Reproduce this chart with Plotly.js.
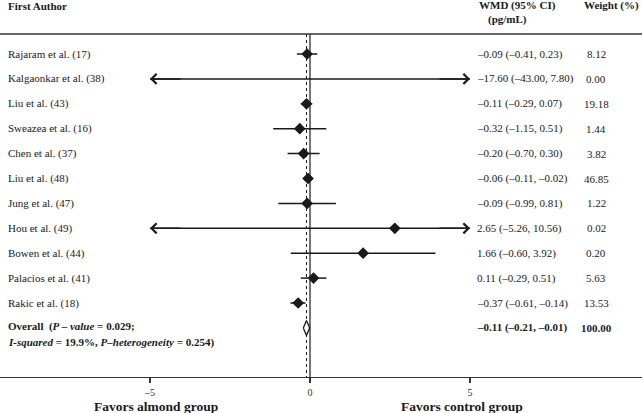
<!DOCTYPE html>
<html>
<head>
<meta charset="utf-8">
<script src="https://cdn.plot.ly/plotly-3.0.1.min.js"></script>
<style>
  html, body { margin: 0; padding: 0; background: #fff; }
  #graph { width: 642px; height: 413px; }
</style>
</head>
<body>
<div id="graph"></div>
<script>
// study data (WMD, pg/mL)
const studies = ['Rajaram et al. (17)', 'Kalgaonkar et al. (38)', 'Liu et al. (43)', 'Sweazea et al. (16)',
    'Chen et al. (37)', 'Liu et al. (48)', 'Jung et al. (47)', 'Hou et al. (49)', 'Bowen et al. (44)',
    'Palacios et al. (41)', 'Rakic et al. (18)'];
const est = [-0.09, -17.60, -0.11, -0.32, -0.20, -0.06, -0.09, 2.65, 1.66, 0.11, -0.37];
const lower = [-0.41, -43.00, -0.29, -1.15, -0.70, -0.11, -0.99, -5.26, -0.60, -0.29, -0.61];
const upper = [0.23, 7.80, 0.07, 0.51, 0.30, -0.02, 0.81, 10.56, 3.92, 0.51, -0.14];
const weights = [8.12, 0.00, 19.18, 1.44, 3.82, 46.85, 1.22, 0.02, 0.20, 5.63, 13.53];

const overallEst = -0.11;
const overallLo = -0.21;
const overallHi = -0.01;
const overallWeight = 100.00;

const xTicks = [-5, 0, 5];
const xTickText = ['\u20135', '0', '5'];

const FONT = '"Liberation Serif", "Times New Roman", serif';
const INK = '#1a1a1a';
const clip = 5;

function fmt(v) {
    return (v < 0 ? '\u2013' : '') + Math.abs(v).toFixed(2);
}

let ciX = [], ciY = [];
let annotations = [];
let rowOverall = studies.length;

for (let i = 0; i < studies.length; i++) {
    ciX.push(Math.max(lower[i], -clip), Math.min(upper[i], clip), null);
    ciY.push(i, i, null);

    annotations.push({ xref: 'paper', yref: 'y', x: 0.009, y: i, xanchor: 'left', yanchor: 'middle',
        text: studies[i], showarrow: false, font: { family: FONT, size: 11, color: INK } });
    annotations.push({ xref: 'paper', yref: 'y', x: 0.7395, y: i, xanchor: 'left', yanchor: 'middle',
        text: `${fmt(est[i])} (${fmt(lower[i])}, ${fmt(upper[i])})`, showarrow: false,
        font: { family: FONT, size: 11, color: INK } });
    annotations.push({ xref: 'paper', yref: 'y', x: 0.929, y: i, xanchor: 'center', yanchor: 'middle',
        text: weights[i].toFixed(2), showarrow: false, font: { family: FONT, size: 11, color: INK } });

    // arrows where the interval runs past the axis
    if (lower[i] < -clip) {
        annotations.push({ xref: 'x', yref: 'y', axref: 'x', ayref: 'y', x: -clip, y: i, ax: -clip + 1, ay: i,
            text: '', showarrow: true, arrowhead: 4, arrowsize: 1.3, arrowwidth: 1.5, arrowcolor: INK });
    }
    if (upper[i] > clip) {
        annotations.push({ xref: 'x', yref: 'y', axref: 'x', ayref: 'y', x: clip, y: i, ax: clip - 1, ay: i,
            text: '', showarrow: true, arrowhead: 4, arrowsize: 1.3, arrowwidth: 1.5, arrowcolor: INK });
    }
}

// headers
annotations.push(
    { xref: 'paper', yref: 'y', x: 0.009, y: -1.93, xanchor: 'left', yanchor: 'middle', showarrow: false,
      text: '<b>First Author</b>', font: { family: FONT, size: 11, color: INK } },
    { xref: 'paper', yref: 'y', x: 0.7425, y: -1.93, xanchor: 'left', yanchor: 'middle', showarrow: false,
      text: '<b>WMD (95% CI)</b>', font: { family: FONT, size: 11, color: INK } },
    { xref: 'paper', yref: 'y', x: 0.7565, y: -1.37, xanchor: 'left', yanchor: 'middle', showarrow: false,
      text: '<b>(pg/mL)</b>', font: { family: FONT, size: 11, color: INK } },
    { xref: 'paper', yref: 'y', x: 0.999, y: -1.93, xanchor: 'right', yanchor: 'middle', showarrow: false,
      text: '<b>Weight (%)</b>', font: { family: FONT, size: 11, color: INK } }
);

// overall row
annotations.push(
    { xref: 'paper', yref: 'y', x: 0.009, y: rowOverall - 0.07, xanchor: 'left', yanchor: 'middle', showarrow: false,
      text: '<b>Overall  (<i>P \u2013 value</i> = 0.029;</b>', font: { family: FONT, size: 11, color: INK } },
    { xref: 'paper', yref: 'y', x: 0.009, y: rowOverall + 0.6, xanchor: 'left', yanchor: 'middle', showarrow: false,
      text: '<b><i>I-squared</i> = 19.9%, <i>P\u2013heterogeneity</i> = 0.254)</b>',
      font: { family: FONT, size: 11, color: INK } },
    { xref: 'paper', yref: 'y', x: 0.7395, y: rowOverall, xanchor: 'left', yanchor: 'middle', showarrow: false,
      text: `<b>${fmt(overallEst)} (${fmt(overallLo)}, ${fmt(overallHi)})</b>`,
      font: { family: FONT, size: 11, color: INK } },
    { xref: 'paper', yref: 'y', x: 0.929, y: rowOverall, xanchor: 'center', yanchor: 'middle', showarrow: false,
      text: `<b>${overallWeight.toFixed(2)}</b>`, font: { family: FONT, size: 11, color: INK } }
);

// axis captions
annotations.push(
    { xref: 'paper', yref: 'paper', x: 0.243, y: -0.0775, xanchor: 'center', yanchor: 'middle', showarrow: false,
      text: '<b>Favors almond group</b>', font: { family: FONT, size: 13.5, color: INK } },
    { xref: 'paper', yref: 'paper', x: 0.72, y: -0.0775, xanchor: 'center', yanchor: 'middle', showarrow: false,
      text: '<b>Favors control group</b>', font: { family: FONT, size: 13.5, color: INK } }
);

const topY = -0.803;
const bottomY = 12.972;

var ciTrace = {
    x: ciX, y: ciY, mode: 'lines', type: 'scatter',
    line: { color: INK, width: 1.5 }, hoverinfo: 'skip'
};

var pointTrace = {
    x: est, y: studies.map((s, i) => i), mode: 'markers', type: 'scatter',
    marker: { symbol: 'diamond', size: 9, color: INK }
};

var h = 0.3;
var overallTrace = {
    x: [overallLo, overallEst, overallHi, overallEst, overallLo],
    y: [rowOverall, rowOverall - h, rowOverall, rowOverall + h, rowOverall],
    mode: 'lines', type: 'scatter', fill: 'toself', fillcolor: '#ffffff',
    line: { color: INK, width: 1.3 }
};

var layout = {
    width: 642,
    height: 413,
    margin: { l: 0, r: 0, t: 0, b: 36 },
    paper_bgcolor: '#ffffff',
    plot_bgcolor: '#ffffff',
    showlegend: false,
    xaxis: {
        range: [-9.6875, 10.375],
        tickvals: xTicks,
        ticktext: xTickText,
        ticks: 'outside',
        ticklen: 5,
        tickwidth: 1.2,
        tickcolor: '#333',
        ticklabelstandoff: 1,
        tickfont: { family: FONT, size: 10, color: '#333' },
        showline: true,
        linecolor: '#333',
        linewidth: 1.3,
        showgrid: false,
        zeroline: false
    },
    yaxis: {
        range: [bottomY, topY - 1.366],
        visible: false,
        showgrid: false,
        zeroline: false
    },
    shapes: [
        { type: 'line', xref: 'paper', yref: 'y', x0: 0, x1: 1, y0: topY, y1: topY,
          line: { color: '#333', width: 1.3 } },
        { type: 'line', xref: 'x', yref: 'y', x0: 0, x1: 0, y0: topY, y1: bottomY,
          layer: 'below', line: { color: INK, width: 1.2 } },
        { type: 'line', xref: 'x', yref: 'y', x0: overallEst, x1: overallEst, y0: topY, y1: bottomY,
          layer: 'below', line: { color: INK, width: 1, dash: '3px,3px' } }
    ],
    annotations: annotations
};

Plotly.newPlot('graph', [ciTrace, pointTrace, overallTrace], layout, { displayModeBar: false, staticPlot: true });
</script>
</body>
</html>
